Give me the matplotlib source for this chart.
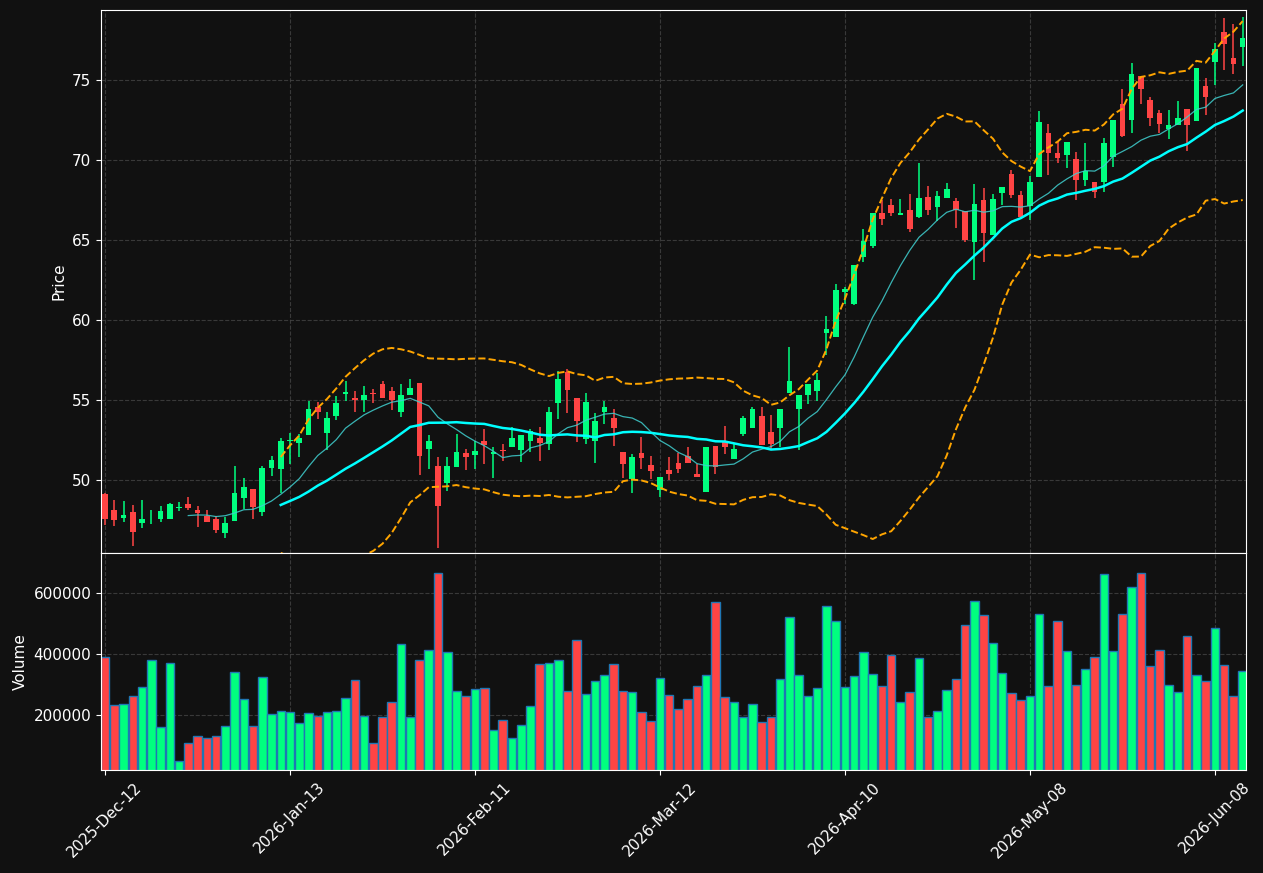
import numpy as np
import pandas as pd
import matplotlib
matplotlib.use("Agg")
import matplotlib.pyplot as plt

# ── data ──────────────────────────────────────────────────────────────────────
opens = [49.12, 48.13, 47.63, 48.00, 47.33, 47.42, 47.58, 47.58, 48.27, 48.50,
         48.12, 47.77, 47.58, 46.69, 47.46, 48.88, 49.42, 48.02, 50.77, 50.67,
         52.44, 52.33, 52.83, 54.54, 52.92, 54.02, 55.40, 55.10, 55.02, 55.44,
         56.00, 55.56, 54.27, 55.33, 56.06, 51.96, 50.88, 49.79, 50.83, 51.69,
         51.58, 52.44, 51.65, 51.88, 52.08, 51.90, 52.46, 52.60, 52.27, 54.83,
         56.73, 55.12, 52.58, 52.46, 54.25, 53.88, 51.75, 50.06, 51.69, 50.94,
         49.40, 50.62, 51.06, 51.52, 50.38, 49.27, 52.12, 52.38, 51.33, 52.90,
         53.23, 54.00, 53.00, 53.27, 55.46, 54.46, 55.29, 55.58, 59.17, 58.96,
         61.79, 61.02, 63.98, 64.65, 66.67, 67.20, 66.58, 66.88, 66.46, 67.69,
         67.08, 67.65, 67.44, 66.81, 64.90, 67.50, 65.33, 67.94, 69.12, 67.81,
         67.17, 68.96, 71.69, 70.44, 70.35, 70.10, 68.79, 68.67, 68.62, 70.23,
         73.54, 72.54, 75.29, 73.79, 72.98, 71.94, 72.21, 73.23, 72.46, 74.67,
         76.15, 78.04, 76.42, 77.08]
highs = [49.17, 48.75, 48.69, 48.44, 48.75, 48.12, 48.35, 48.56, 48.62, 48.92,
         48.35, 48.12, 47.75, 47.67, 50.88, 50.10, 49.42, 50.88, 51.50, 52.60,
         52.92, 52.88, 54.94, 54.85, 54.23, 55.25, 56.19, 55.54, 55.88, 55.69,
         56.19, 55.81, 56.00, 56.35, 56.06, 52.83, 51.42, 51.42, 52.85, 51.92,
         52.42, 53.17, 52.08, 52.23, 53.33, 52.79, 53.17, 53.29, 54.56, 56.83,
         56.94, 55.12, 55.42, 54.17, 54.96, 54.46, 51.75, 51.60, 52.67, 51.52,
         50.19, 51.42, 51.71, 52.04, 50.98, 52.04, 52.12, 53.35, 52.27, 54.00,
         54.58, 54.58, 54.06, 54.42, 58.35, 55.29, 55.98, 56.67, 60.23, 62.23,
         62.06, 63.42, 65.73, 66.67, 67.50, 67.60, 67.60, 67.92, 69.85, 68.40,
         68.10, 68.60, 67.67, 66.81, 68.54, 68.29, 67.90, 68.31, 69.42, 68.06,
         69.00, 73.06, 72.25, 71.19, 71.17, 70.54, 71.10, 68.67, 71.42, 72.54,
         74.48, 76.10, 75.29, 73.98, 73.12, 73.17, 73.73, 73.23, 75.79, 75.12,
         77.33, 78.92, 78.54, 78.98]
lows = [47.19, 47.15, 47.40, 45.90, 47.02, 47.23, 47.35, 47.58, 48.08, 48.12,
        47.08, 47.40, 46.67, 46.40, 47.46, 48.20, 47.54, 47.77, 50.27, 49.20,
        51.00, 51.46, 52.83, 53.81, 51.85, 53.73, 54.96, 54.23, 54.23, 54.83,
        55.15, 54.35, 53.92, 55.33, 50.31, 50.67, 45.73, 49.31, 50.83, 50.62,
        50.67, 50.98, 50.10, 51.17, 52.08, 51.10, 51.73, 51.21, 51.85, 53.79,
        54.17, 52.35, 52.27, 51.04, 53.48, 52.15, 50.10, 49.17, 50.67, 50.06,
        48.92, 50.00, 50.42, 51.08, 50.19, 49.27, 50.35, 51.62, 51.33, 52.75,
        53.23, 52.21, 51.96, 52.04, 55.46, 51.88, 54.73, 54.92, 57.79, 58.96,
        61.04, 60.96, 63.62, 64.54, 65.92, 66.50, 66.58, 65.54, 66.40, 66.56,
        66.19, 67.65, 65.75, 64.90, 62.50, 63.65, 65.33, 67.19, 67.67, 66.44,
        66.29, 68.96, 69.08, 69.83, 69.54, 67.50, 68.42, 67.67, 68.04, 69.60,
        71.46, 71.73, 73.54, 72.15, 71.71, 71.35, 72.20, 70.60, 72.46, 72.85,
        74.71, 75.67, 75.42, 75.90]
closes = [47.58, 47.50, 47.81, 46.77, 47.56, 47.46, 48.06, 48.50, 48.30, 48.25,
          47.96, 47.40, 46.90, 47.31, 49.19, 49.56, 48.31, 50.75, 51.25, 52.44,
          52.52, 52.62, 54.42, 54.27, 53.85, 54.81, 55.50, 55.02, 55.31, 55.40,
          55.15, 54.98, 55.33, 55.75, 51.52, 52.44, 48.40, 50.88, 51.75, 51.46,
          51.81, 52.17, 51.77, 51.83, 52.60, 52.79, 53.08, 52.33, 54.25, 56.31,
          55.65, 53.71, 54.88, 53.69, 54.56, 53.27, 51.02, 51.44, 51.40, 50.58,
          50.19, 50.40, 50.69, 51.08, 50.19, 52.04, 50.79, 52.08, 51.94, 53.88,
          54.42, 52.21, 52.27, 54.42, 56.17, 55.29, 55.98, 56.23, 59.42, 61.88,
          61.92, 63.42, 64.92, 66.67, 66.33, 66.67, 66.69, 65.71, 67.62, 66.90,
          67.75, 68.19, 66.88, 65.02, 67.29, 65.46, 67.56, 68.31, 67.81, 66.44,
          68.62, 72.38, 70.46, 70.15, 71.17, 68.79, 69.35, 68.04, 71.10, 72.54,
          71.52, 75.42, 74.46, 72.65, 72.27, 72.23, 72.67, 72.21, 75.79, 73.98,
          76.98, 77.29, 76.04, 77.67]
volumes = [390000, 232000, 235000, 261000, 291000, 379000, 160000, 370000, 51000, 110000,
           130000, 125000, 130000, 163000, 340000, 251000, 163000, 324000, 202000, 212000,
           209000, 173000, 206000, 196000, 209000, 212000, 255000, 314000, 196000, 110000,
           192000, 242000, 432000, 192000, 379000, 414000, 665000, 406000, 278000, 261000,
           284000, 288000, 150000, 183000, 124000, 166000, 229000, 366000, 370000, 379000,
           278000, 445000, 268000, 310000, 330000, 366000, 278000, 274000, 209000, 179000,
           320000, 265000, 219000, 251000, 294000, 330000, 570000, 258000, 242000, 192000,
           235000, 176000, 192000, 317000, 520000, 330000, 261000, 288000, 556000, 507000,
           291000, 327000, 406000, 334000, 294000, 396000, 242000, 274000, 386000, 192000,
           212000, 281000, 317000, 494000, 573000, 527000, 435000, 337000, 271000, 248000,
           261000, 530000, 294000, 507000, 409000, 297000, 350000, 389000, 661000, 409000,
           530000, 619000, 665000, 360000, 412000, 297000, 274000, 458000, 330000, 310000,
           484000, 363000, 261000, 343000]

tick_pos    = [0, 20, 40, 60, 80, 100, 120]
tick_labels = ["2025-Dec-12", "2026-Jan-13", "2026-Feb-11", "2026-Mar-12",
               "2026-Apr-10", "2026-May-08", "2026-Jun-08"]

UP, DOWN = "#00ff7f", "#ff4444"
BG = "#111111"

df = pd.DataFrame({"open": opens, "high": highs, "low": lows,
                   "close": closes, "volume": volumes})
x = np.arange(len(df))
up = df["close"] >= df["open"]
colors = np.where(up, UP, DOWN)

ma10 = df["close"].rolling(10).mean()
ma20 = df["close"].rolling(20).mean()
std20 = df["close"].rolling(20).std()
bb_up = ma20 + 2 * std20
bb_lo = ma20 - 2 * std20

# ── figure ────────────────────────────────────────────────────────────────────
fig = plt.figure(figsize=(12.63, 8.73), dpi=100, facecolor=BG)
ax = fig.add_axes([0.080, 0.3666, 0.9065, 0.622])
axv = fig.add_axes([0.080, 0.118, 0.9065, 0.2486], sharex=ax)

for a in (ax, axv):
    a.set_facecolor(BG)
    for s in a.spines.values():
        s.set_color("white")
    a.tick_params(colors="white", labelsize=11)
    a.grid(True, color="#444444", linestyle="--", linewidth=0.8, alpha=0.8)
    a.set_axisbelow(True)

# candles
ax.vlines(x, df["low"], df["high"], colors=colors, linewidth=1.1, zorder=2)
body_h = (df["close"] - df["open"]).abs().clip(lower=0.04)
body_b = np.minimum(df["open"], df["close"])
ax.bar(x, body_h, 0.6, bottom=body_b, color=colors, linewidth=0, zorder=3)

# indicators
ax.plot(x, ma10, color="#40d0d0", linewidth=0.9, alpha=0.85, zorder=4)
ax.plot(x, ma20, color="#00ffff", linewidth=1.8, zorder=4)
ax.plot(x, bb_up, color="orange", linestyle="--", linewidth=1.4, zorder=4)
ax.plot(x, bb_lo, color="orange", linestyle="--", linewidth=1.4, zorder=4)

ax.set_ylim(45.44, 79.4)
ax.set_yticks([50, 55, 60, 65, 70, 75])
ax.set_ylabel("Price", color="white", fontsize=11)
ax.tick_params(axis="x", labelbottom=False, length=0)

# volume
axv.bar(x, df["volume"], 0.92, color=colors, edgecolor="#1f77b4", linewidth=1)
axv.set_ylim(20000, 731000)
axv.set_yticks([200000, 400000, 600000])
axv.set_yticklabels(["200000", "400000", "600000"])
axv.set_ylabel("Volume", color="white", fontsize=11)
axv.set_xlim(-0.43, 123.35)
axv.set_xticks(tick_pos)
axv.set_xticklabels(tick_labels, rotation=45, ha="center")

fig.savefig("out.png", dpi=100, facecolor=BG)
